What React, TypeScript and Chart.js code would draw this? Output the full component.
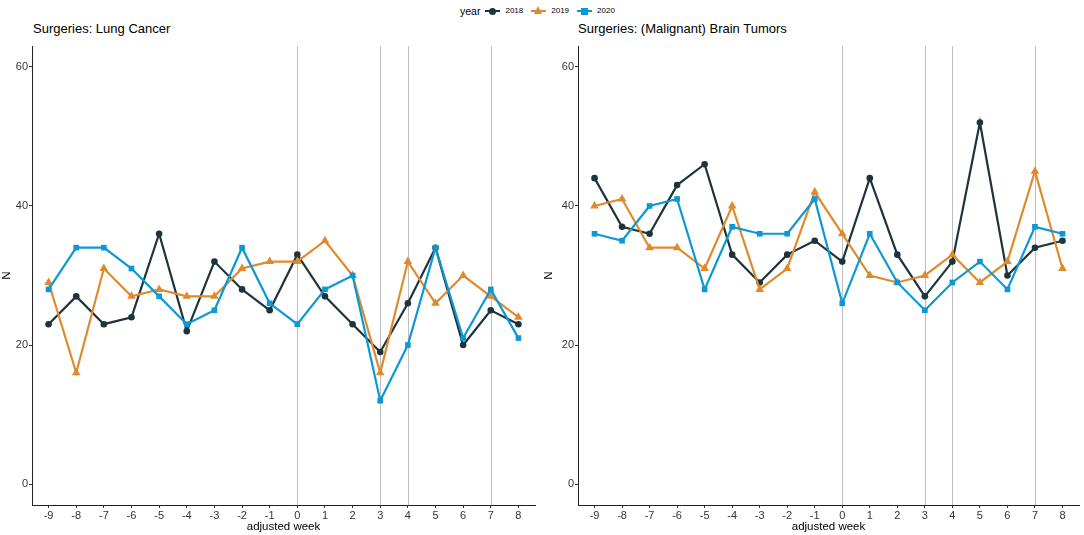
import { Chart, registerables } from "chart.js";
import { useEffect, useRef } from "react";

Chart.register(...registerables);

const weeks = [-9, -8, -7, -6, -5, -4, -3, -2, -1, 0, 1, 2, 3, 4, 5, 6, 7, 8];
const yTicks = [0, 20, 40, 60];
const vlines = [0, 3, 4, 7];
const years = ["2018", "2019", "2020"];

const lung2018 = [23, 27, 23, 24, 36, 22, 32, 28, 25, 33, 27, 23, 19, 26, 34, 20, 25, 23];
const lung2019 = [29, 16, 31, 27, 28, 27, 27, 31, 32, 32, 35, 30, 16, 32, 26, 30, 27, 24];
const lung2020 = [28, 34, 34, 31, 27, 23, 25, 34, 26, 23, 28, 30, 12, 20, 34, 21, 28, 21];

const brain2018 = [44, 37, 36, 43, 46, 33, 29, 33, 35, 32, 44, 33, 27, 32, 52, 30, 34, 35];
const brain2019 = [40, 41, 34, 34, 31, 40, 28, 31, 42, 36, 30, 29, 30, 33, 29, 32, 45, 31];
const brain2020 = [36, 35, 40, 41, 28, 37, 36, 36, 41, 26, 36, 29, 25, 29, 32, 28, 37, 36];

const colors = ["#1d343c", "#e08a30", "#0c98d4"];
const styles = ["circle", "triangle", "rect"] as const;
const radii = [3.3, 5, 4];

const FONT = "'Liberation Sans', Arial, sans-serif";

// grey reference lines at given weeks
const vlinePlugin = {
  id: "vlines",
  beforeDatasetsDraw(chart: any) {
    const { ctx, chartArea, scales } = chart;
    ctx.save();
    ctx.strokeStyle = "#bebebe";
    ctx.lineWidth = 1;
    vlines.forEach((v) => {
      const x = Math.round(scales.x.getPixelForValue(v)) + 0.5;
      ctx.beginPath();
      ctx.moveTo(x, chartArea.top);
      ctx.lineTo(x, chartArea.bottom);
      ctx.stroke();
    });
    ctx.restore();
  },
};

const Panel = ({
  series,
  left,
  width,
  yWidth,
  padRight,
}: {
  series: number[][];
  left: number;
  width: number;
  yWidth: number;
  padRight: number;
}) => {
  const ref = useRef<HTMLCanvasElement>(null);

  useEffect(() => {
    if (!ref.current) return;
    const chart = new Chart(ref.current, {
      type: "line",
      data: {
        datasets: series.map((vals, i) => ({
          label: years[i],
          data: weeks.map((w, j) => ({ x: w, y: vals[j] })),
          borderColor: colors[i],
          backgroundColor: colors[i],
          borderWidth: 2.2,
          pointStyle: styles[i],
          pointRadius: radii[i],
          pointBorderWidth: 0,
          tension: 0,
          order: 3 - i,
        })),
      },
      options: {
        responsive: false,
        animation: false,
        layout: { padding: { top: 46, right: padRight, left: 0, bottom: 0 } },
        plugins: {
          legend: { display: false },
          tooltip: { enabled: false },
        },
        scales: {
          x: {
            type: "linear",
            min: -9.6,
            max: 8.6,
            afterBuildTicks: (s: any) => {
              s.ticks = weeks.map((v) => ({ value: v }));
            },
            afterFit: (s: any) => {
              s.height = 30;
            },
            border: { display: true, color: "#222", width: 1 },
            grid: { drawOnChartArea: false, drawTicks: true, tickLength: 3, color: "#333" },
            ticks: {
              color: "#333",
              font: { family: FONT, size: 11 },
              padding: 1,
              maxRotation: 0,
              autoSkip: false,
            },
            title: {
              display: true,
              text: "adjusted week",
              color: "#000",
              font: { family: FONT, size: 11.5 },
              padding: { top: 0, bottom: 1 },
            },
          },
          y: {
            min: -3,
            max: 63,
            afterBuildTicks: (s: any) => {
              s.ticks = yTicks.map((v) => ({ value: v }));
            },
            afterFit: (s: any) => {
              s.width = yWidth;
            },
            border: { display: true, color: "#222", width: 1 },
            grid: { drawOnChartArea: false, drawTicks: true, tickLength: 3, color: "#333" },
            ticks: {
              color: "#333",
              font: { family: FONT, size: 11 },
              padding: 1,
            },
            title: {
              display: true,
              text: "N",
              color: "#000",
              font: { family: FONT, size: 11.5 },
              padding: { top: 0, bottom: 0 },
            },
          },
        },
      },
      plugins: [vlinePlugin],
    });
    return () => chart.destroy();
  }, []);

  return (
    <canvas
      ref={ref}
      width={width}
      height={535}
      style={{ position: "absolute", left, top: 0 }}
    ></canvas>
  );
};

const LegendKey = ({ i }: { i: number }) => {
  const c = colors[i];
  let marker: any;
  if (i === 0) {
    marker = { width: 7, height: 7, borderRadius: "50%", background: c, left: 4, top: -2.5 };
  } else if (i === 1) {
    marker = {
      width: 0,
      height: 0,
      borderLeft: "4.5px solid transparent",
      borderRight: "4.5px solid transparent",
      borderBottom: `8px solid ${c}`,
      left: 3,
      top: -4.5,
    };
  } else {
    marker = { width: 7, height: 7, background: c, left: 4, top: -2.5 };
  }
  return (
    <span
      style={{
        display: "inline-block",
        position: "relative",
        width: 15,
        height: 2,
        background: c,
        marginLeft: 5,
        marginRight: 5,
        verticalAlign: "middle",
      }}
    >
      <span style={{ position: "absolute", ...marker }}></span>
    </span>
  );
};

const App = () => {
  return (
    <div
      style={{
        position: "absolute",
        left: 0,
        top: 0,
        width: 1084,
        height: 535,
        background: "#fff",
        fontFamily: FONT,
        overflow: "hidden",
      }}
    >
      <div
        style={{
          position: "absolute",
          top: 4,
          left: 460,
          fontSize: 10,
          lineHeight: "14px",
          whiteSpace: "nowrap",
          color: "#000",
          display: "flex",
          alignItems: "center",
        }}
      >
        <span style={{ fontSize: 10.5 }}>year</span>
        {years.map((y, i) => (
          <span key={y} style={{ display: "flex", alignItems: "center" }}>
            <LegendKey i={i} />
            <span style={{ fontSize: 8, marginRight: 3 }}>{y}</span>
          </span>
        ))}
      </div>
      <div style={{ position: "absolute", left: 33, top: 21, fontSize: 13, color: "#000" }}>
        Surgeries: Lung Cancer
      </div>
      <div style={{ position: "absolute", left: 578, top: 21, fontSize: 13, color: "#000" }}>
        Surgeries: (Malignant) Brain Tumors
      </div>
      <Panel series={[lung2018, lung2019, lung2020]} left={0} width={540} yWidth={32} padRight={4} />
      <Panel series={[brain2018, brain2019, brain2020]} left={542} width={542} yWidth={36} padRight={1} />
    </div>
  );
};

export default App;
